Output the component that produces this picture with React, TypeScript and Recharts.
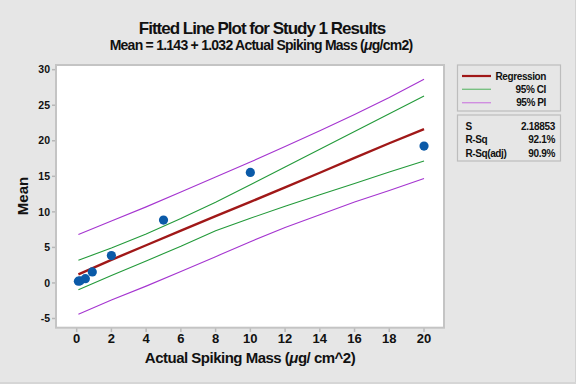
import React from "react";
import {
  ComposedChart,
  Line,
  Scatter,
  XAxis,
  YAxis,
  CartesianGrid,
} from "recharts";

// observed points
const obsX = [0.1, 0.2, 0.5, 0.9, 2, 5, 10, 20];
const obsY = [0.25, 0.3, 0.6, 1.55, 3.85, 8.85, 15.55, 19.25];

const fitX = [0.1, 2, 4, 6, 8, 10, 12, 14, 16, 18, 20];
const regression = [1.2, 3.25, 5.3, 7.35, 9.4, 11.4, 13.45, 15.5, 17.6, 19.65, 21.65];
const ciUpper = [3.2, 4.9, 6.9, 9.05, 11.35, 13.8, 16.3, 18.8, 21.3, 23.8, 26.3];
const ciLower = [-0.95, 1.05, 3.1, 5.15, 7.35, 9.1, 10.8, 12.4, 14.0, 15.6, 17.15];
const piUpper = [6.8, 8.7, 10.7, 12.8, 14.9, 17.0, 19.2, 21.4, 23.7, 26.1, 28.65];
const piLower = [-4.4, -2.4, -0.45, 1.6, 3.7, 5.8, 7.8, 9.6, 11.4, 13.0, 14.7];

const xTicks = [0, 2, 4, 6, 8, 10, 12, 14, 16, 18, 20];
const yTicks = [-5, 0, 5, 10, 15, 20, 25, 30];

const statLabels = ["S", "R-Sq", "R-Sq(adj)"];
const statValues = ["2.18853", "92.1%", "90.9%"];

const FONT = "'Liberation Sans', Arial, Helvetica, sans-serif";
const BG = "#e6e6e6";

const toSeries = (ys: number[]) => fitX.map((x, i) => ({ x, y: ys[i] }));
const points = obsX.map((x, i) => ({ x, y: obsY[i] }));

const Dot = (props: any) => (
  <circle cx={props.cx} cy={props.cy} r={4.6} fill="#0b5aa8" />
);

export default function App() {
  return (
    <div
      style={{
        position: "absolute",
        left: 0,
        top: 0,
        width: 576,
        height: 384,
        background: BG,
        fontFamily: FONT,
      }}
    >
      <ComposedChart
        width={576}
        height={384}
        margin={{ top: 65, right: 132, bottom: 0, left: 0 }}
      >
        <CartesianGrid fill="#ffffff" horizontal={false} vertical={false} />
        <XAxis
          type="number"
          dataKey="x"
          domain={[-1.19, 21.15]}
          ticks={xTicks}
          allowDataOverflow
          height={56}
          axisLine={false}
          tickLine={{ stroke: "#b8b8b8", strokeWidth: 1.5 }}
          tickSize={4}
          tick={{ fill: "#111", fontSize: 13, fontWeight: 700, fontFamily: FONT }}
        />
        <YAxis
          type="number"
          dataKey="y"
          domain={[-6.34, 30.66]}
          ticks={yTicks}
          allowDataOverflow
          width={56}
          axisLine={false}
          tickLine={{ stroke: "#b8b8b8", strokeWidth: 1.5 }}
          tickSize={4}
          tick={{ fill: "#111", fontSize: 10.5, fontWeight: 700, fontFamily: FONT }}
        />
        <Line data={toSeries(piUpper)} dataKey="y" type="linear" stroke="#a535d0" strokeWidth={1.1} dot={false} isAnimationActive={false} />
        <Line data={toSeries(piLower)} dataKey="y" type="linear" stroke="#a535d0" strokeWidth={1.1} dot={false} isAnimationActive={false} />
        <Line data={toSeries(ciUpper)} dataKey="y" type="linear" stroke="#239a3a" strokeWidth={1.1} dot={false} isAnimationActive={false} />
        <Line data={toSeries(ciLower)} dataKey="y" type="linear" stroke="#239a3a" strokeWidth={1.1} dot={false} isAnimationActive={false} />
        <Line data={toSeries(regression)} dataKey="y" type="linear" stroke="#a01818" strokeWidth={2.4} dot={false} isAnimationActive={false} />
        <Scatter data={points} dataKey="y" shape={<Dot />} isAnimationActive={false} />
      </ComposedChart>

      <svg
        width={576}
        height={384}
        style={{ position: "absolute", left: 0, top: 0, pointerEvents: "none" }}
        fontFamily={FONT}
      >
        {/* frame */}
        <rect x={575} y={0} width={1} height={384} fill="#d2d2d2" />
        <rect x={0} y={382} width={576} height={2} fill="#d6d6d6" />
        <rect x={56} y={65} width={388} height={262.7} fill="none" stroke="#c4c4c4" strokeWidth={2} />

        {/* titles */}
        <text x={262} y={34} textAnchor="middle" fontSize={17} fontWeight={700} letterSpacing={-1} fill="#111">
          Fitted Line Plot for Study 1 Results
        </text>
        <text x={261} y={50} textAnchor="middle" fontSize={14} fontWeight={700} letterSpacing={-0.75} fill="#111">
          Mean = 1.143 + 1.032 Actual Spiking Mass (<tspan fontStyle="italic">μ</tspan>g/cm2)
        </text>

        {/* axis titles */}
        <text x={250} y={363} textAnchor="middle" fontSize={15} fontWeight={700} letterSpacing={-0.5} fill="#111">
          Actual Spiking Mass (<tspan fontStyle="italic">μ</tspan>g/ cm^2)
        </text>
        <text
          x={0}
          y={0}
          transform="translate(28,196) rotate(-90)"
          textAnchor="middle"
          fontSize={15}
          fontWeight={700}
          fill="#111"
        >
          Mean
        </text>

        {/* legend */}
        <rect x={457.5} y={65} width={103} height={46} fill="none" stroke="#bdbdbd" strokeWidth={1.2} />
        <line x1={462} x2={491} y1={76} y2={76} stroke="#a01818" strokeWidth={2.2} />
        <line x1={462} x2={491} y1={89.3} y2={89.3} stroke="#78c082" strokeWidth={1.4} />
        <line x1={462} x2={491} y1={102.7} y2={102.7} stroke="#d08ee0" strokeWidth={1.4} />
        <text x={546} y={79.5} textAnchor="end" fontSize={10} fontWeight={700} letterSpacing={-0.4} fill="#111">Regression</text>
        <text x={546} y={92.8} textAnchor="end" fontSize={10} fontWeight={700} letterSpacing={-0.4} fill="#111">95% CI</text>
        <text x={546} y={106.2} textAnchor="end" fontSize={10} fontWeight={700} letterSpacing={-0.4} fill="#111">95% PI</text>

        <rect x={457.5} y={115} width={103} height={46} fill="none" stroke="#bdbdbd" strokeWidth={1.2} />
        {statLabels.map((s, i) => (
          <text key={s} x={465.5} y={129.5 + i * 13.8} fontSize={10} fontWeight={700} letterSpacing={-0.4} fill="#111">
            {s}
          </text>
        ))}
        {statValues.map((v, i) => (
          <text key={v} x={555} y={129.5 + i * 13.8} textAnchor="end" fontSize={10} fontWeight={700} letterSpacing={-0.3} fill="#111">
            {v}
          </text>
        ))}
      </svg>
    </div>
  );
}
